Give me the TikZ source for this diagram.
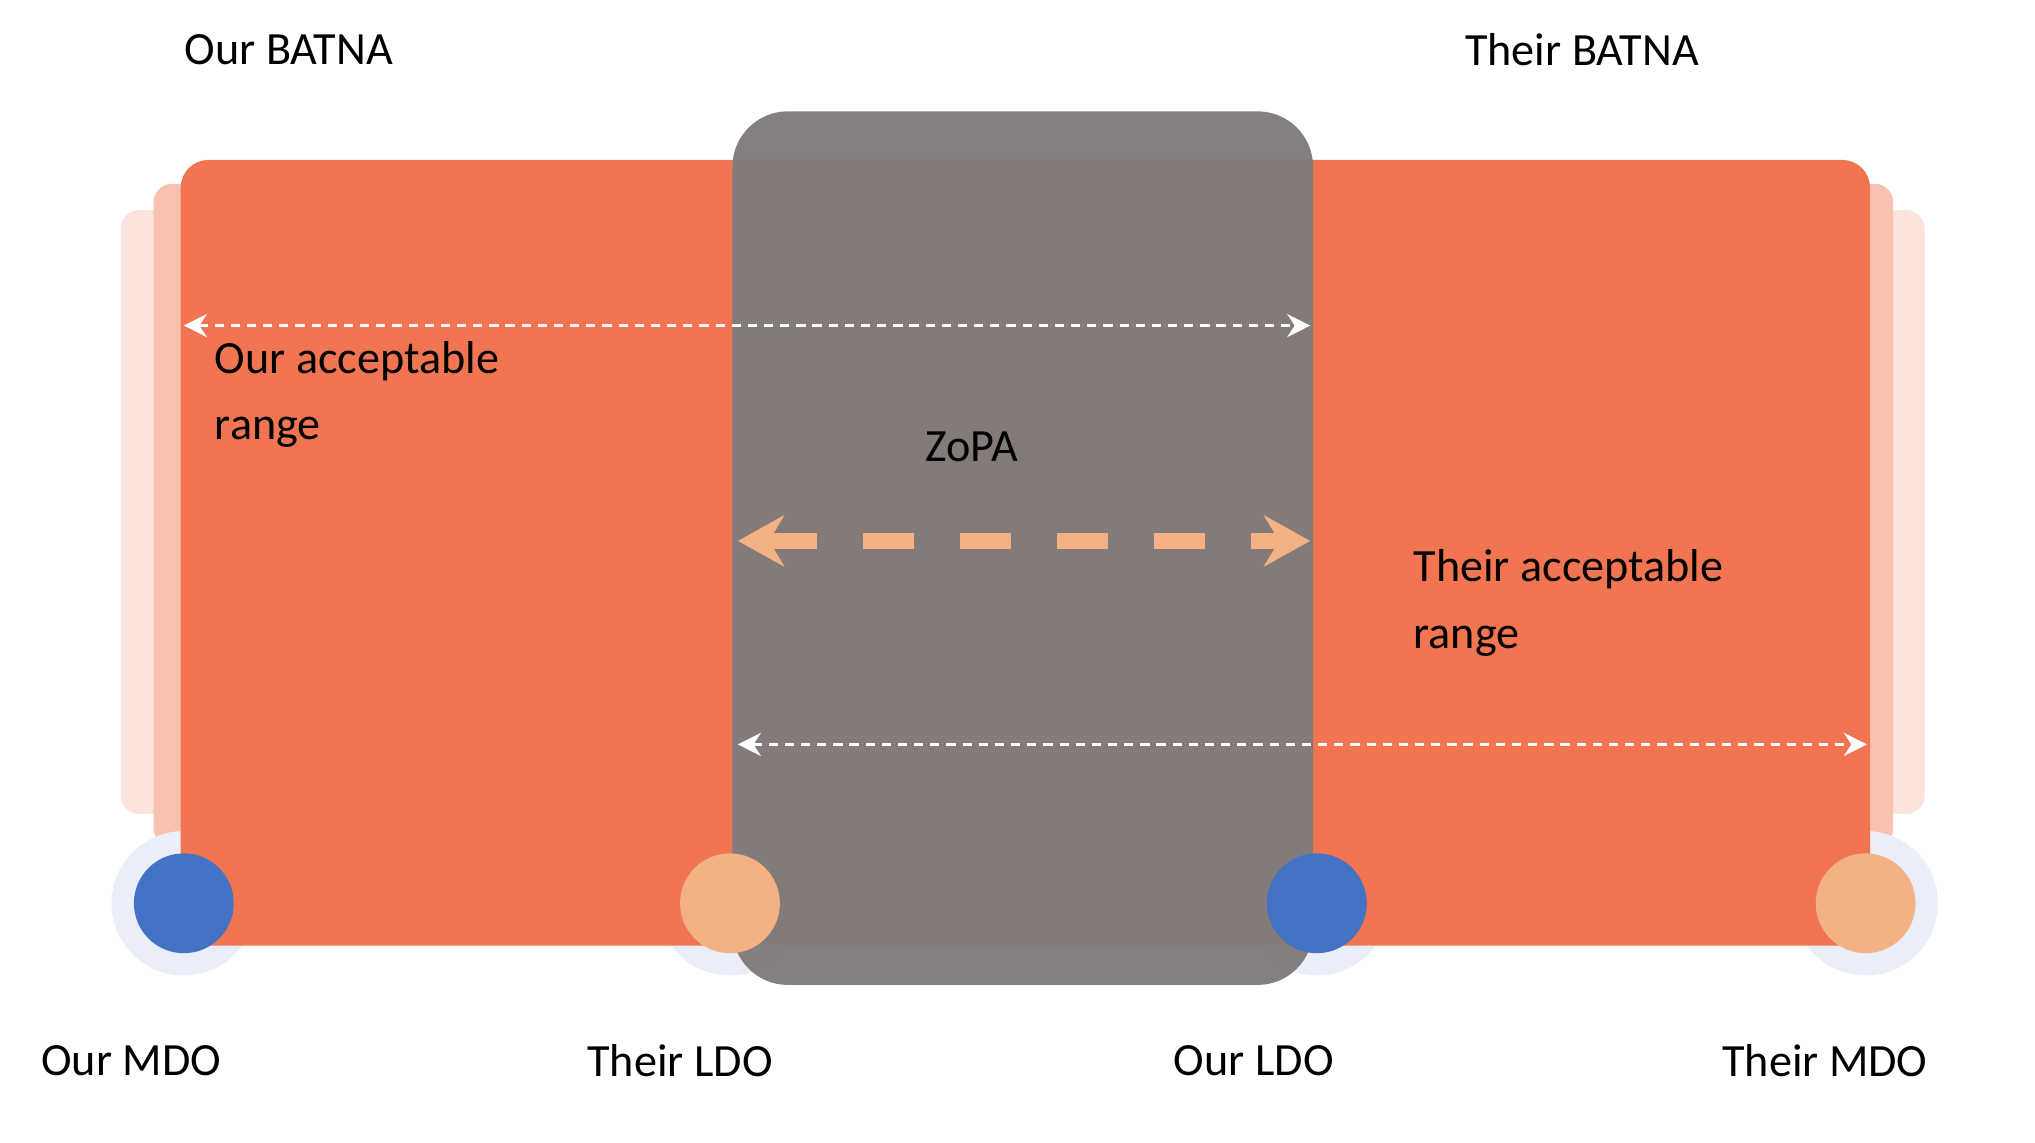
\documentclass[tikz,border=0pt]{standalone}
\usepackage{fontspec}
\setmainfont{Carlito}
\usetikzlibrary{arrows.meta}
\definecolor{org}{RGB}{240,117,80}
\definecolor{peach}{RGB}{244,177,131}
\definecolor{blu}{RGB}{68,114,196}
\definecolor{gr}{RGB}{128,124,124}
\begin{document}
\begin{tikzpicture}[x=0.01cm,y=-0.01cm,
  lbl/.style={font=\fontsize{10}{14.5}\selectfont,inner sep=0pt},
  wdash/.style={white,line width=0.6pt,dash pattern=on 2pt off 1.5pt,{Stealth[length=5pt,width=5pt]}-{Stealth[length=5pt,width=5pt]}},
  dot/.style={circle,minimum size=0.76cm,inner sep=0pt},
  halo/.style={circle,minimum size=1.1cm,inner sep=0pt,fill=blu!12}]
\useasboundingbox (0,0) rectangle (1550,870);
% faint side bands
\fill[org!20,rounded corners=4pt] (92,160) rectangle (160,620);
\fill[org!45,rounded corners=4pt] (117,140) rectangle (160,645);
\fill[org!20,rounded corners=4pt] (1400,160) rectangle (1466,620);
\fill[org!45,rounded corners=4pt] (1400,140) rectangle (1442,645);
% halos
\node[halo] (h1) at (140,688) {};
\node[halo] (h2) at (556,688) {};
\node[halo] (h3) at (1003,688) {};
\node[halo] (h4) at (1421,688) {};
% main orange
\node[fill=org,rounded corners=6pt,minimum width=12.86cm,minimum height=5.98cm,inner sep=0pt] (main) at (781,421) {};
% gray zopa
\node[fill=gr,fill opacity=0.97,rounded corners=12pt,minimum width=4.42cm,minimum height=6.65cm,inner sep=0pt] (zopa) at (779,417.5) {};
% dots
\node[dot,fill=blu] (d1) at (140,688) {};
\node[dot,fill=peach] (d2) at (556,688) {};
\node[dot,fill=blu] (d3) at (1003,688) {};
\node[dot,fill=peach] (d4) at (1421,688) {};
% arrows
\coordinate (a1) at (140,248); \coordinate (a2) at (998,248);
\coordinate (b1) at (562,567); \coordinate (b2) at (1422,567);
\coordinate (c1) at (562,412); \coordinate (c2) at (998,412);
\draw[wdash] (a1) -- (a2);
\draw[wdash] (b1) -- (b2);
\draw[peach,line width=3.4pt,dash pattern=on 11pt off 10pt,{Stealth[length=10pt,width=11pt]}-{Stealth[length=10pt,width=11pt]}] (c1) -- (c2);
% labels
\node[lbl] (t1) at (220,38) {Our BATNA};
\node[lbl] (t2) at (1205,38) {Their BATNA};
\node[lbl,anchor=north west,align=left] (t3) at (163,259) {Our acceptable\\range};
\node[lbl,anchor=north west,align=left] (t4) at (1076,418) {Their acceptable\\range};
\node[lbl] (t5) at (740,340) {ZoPA};
\node[lbl] (t6) at (100,808) {Our MDO};
\node[lbl] (t7) at (518,808) {Their LDO};
\node[lbl] (t8) at (955,808) {Our LDO};
\node[lbl] (t9) at (1390,808) {Their MDO};
\end{tikzpicture}
\end{document}
